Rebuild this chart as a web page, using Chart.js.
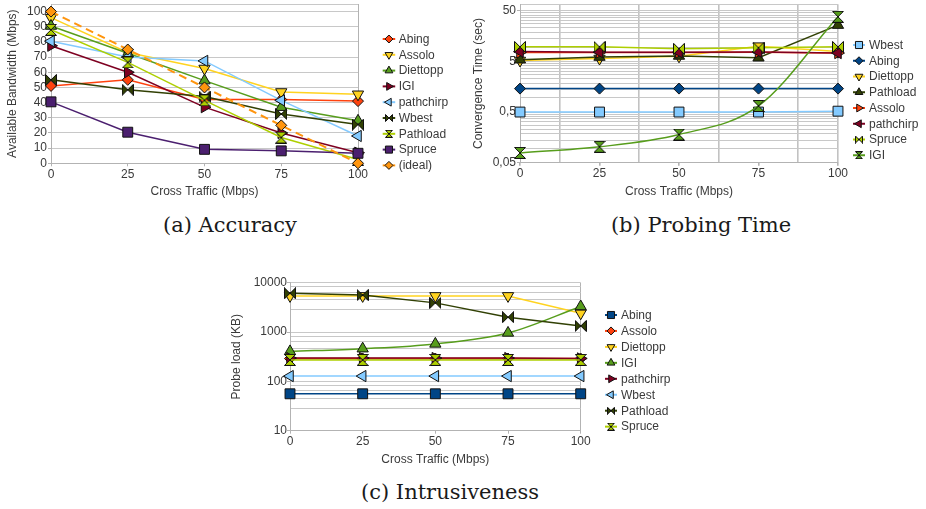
<!DOCTYPE html>
<html><head><meta charset="utf-8">
<script src="https://cdn.jsdelivr.net/npm/chart.js@4.4.1/dist/chart.umd.min.js"></script>
<style>
html,body{margin:0;padding:0;background:#fff;width:926px;height:509px;overflow:hidden;position:relative;}
canvas{position:absolute;}
.cap{position:absolute;font-family:"DejaVu Serif",serif;font-size:21px;line-height:24px;color:#1a1a1a;white-space:nowrap;transform:translateX(-50%);}
</style></head><body>
<canvas id="ca" width="470" height="211" style="left:0px;top:-6px"></canvas>
<canvas id="cb" width="466" height="211" style="left:460px;top:-6px"></canvas>
<canvas id="cc" width="480" height="215" style="left:220px;top:260px"></canvas>
<div class="cap" style="left:230px;top:213px">(a) Accuracy</div>
<div class="cap" style="left:701px;top:213px">(b) Probing Time</div>
<div class="cap" style="left:450px;top:480px">(c) Intrusiveness</div>
<script>
// ---------- data ----------
const crossTraffic = [0, 25, 50, 75, 100];
const xTickLabels = ['0', '25', '50', '75', '100'];

// (a) Accuracy: available bandwidth (Mbps)
const accAbing     = [51, 55, 42, 42, 41];
const accAssolo    = [96, 73, 62.5, 47, 45.5];
const accDiettopp  = [90.5, 72.5, 54.5, 37, 28];
const accIGI       = [77.5, 60, 37, 20, 7];
const accPathchirp = [80.5, 70, 67.5, 41.5, 18];
const accWbest     = [55, 48.5, 44, 32.5, 25.5];
const accPathload  = [88, 66.5, 41.5, 17, 2.5];
const accSpruce    = [40.5, 20.5, 9.2, 8.2, 6.6];
const accIdeal     = [100, 75, 50, 25, 0];
const accTickValues = [0, 10, 20, 30, 40, 50, 60, 70, 80, 90, 100];

// (b) Probing time: convergence time (sec)
const timeWbest     = [0.5, 0.5, 0.5, 0.5, 0.52];
const timeAbing     = [1.45, 1.45, 1.45, 1.45, 1.45];
const timeDiettopp  = [5.2, 5.7, 6.3, 10, 7.8];
const timePathload  = [5.4, 6.1, 6.4, 5.9, 26];
const timeAssolo    = [7.5, 7.5, 7.5, 7.6, 7.3];
const timePathchirp = [7.8, 7.6, 7.6, 7.7, 7.3];
const timeSpruce    = [9.7, 9.7, 8.9, 9.3, 9.7];
const timeIGI       = [0.078, 0.103, 0.18, 0.66, 38];
const timeTickValues = [0.05, 0.5, 5, 50];
const timeTickLabels = ['0,05', '0,5', '5', '50'];

// (c) Intrusiveness: probe load (KB)
const loadAbing     = [56, 56, 56, 56, 56];
const loadAssolo    = [290, 290, 290, 290, 290];
const loadDiettopp  = [5400, 5400, 5400, 5400, 2400];
const loadIGI       = [405, 460, 575, 960, 3300];
const loadPathchirp = [297, 297, 297, 297, 292];
const loadWbest     = [128, 128, 128, 128, 128];
const loadPathload  = [6100, 5600, 3900, 2000, 1330];
const loadSpruce    = [272, 272, 272, 272, 272];
const loadTickValues = [10, 100, 1000, 10000];
const loadTickLabels = ['10', '100', '1000', '10000'];

// ---------- styling ----------
const FONT = '"Liberation Sans", Arial, sans-serif';
const TXT = '#3a3a3a';
const GRID = '#c8c8c8';
const AXIS = '#b3b3b3';
const COL = {blue:'#004586', orange:'#ff420e', yellow:'#ffd320', green:'#579d1c', wine:'#7e0021',
  sky:'#83caff', olive:'#314004', lime:'#aecf00', purple:'#4b1f6f', amber:'#ff950e'};

function shapeCanvas(kind, fill, size) {
  const c = document.createElement('canvas');
  c.width = size; c.height = size;
  const g = c.getContext('2d');
  const s = size, m = 0.5, h = s / 2;
  g.beginPath();
  if (kind === 'bowtie') {
    g.moveTo(m, m); g.lineTo(h, h); g.lineTo(m, s - m); g.closePath();
    g.moveTo(s - m, m); g.lineTo(h, h); g.lineTo(s - m, s - m); g.closePath();
  } else {
    g.moveTo(m, m); g.lineTo(s - m, m); g.lineTo(h, h); g.closePath();
    g.moveTo(m, s - m); g.lineTo(s - m, s - m); g.lineTo(h, h); g.closePath();
  }
  g.fillStyle = fill; g.fill();
  g.strokeStyle = '#111'; g.lineWidth = 1; g.lineJoin = 'miter'; g.stroke();
  return c;
}
function marker(kind, color) {
  switch (kind) {
    case 'diamond': return {style:'rectRot', rot:0, r:5.5, lr:4};
    case 'square':  return {style:'rect', rot:0, r:7, lr:5};
    case 'up':      return {style:'triangle', rot:0, r:6.5, lr:4.5};
    case 'down':    return {style:'triangle', rot:180, r:6.5, lr:4.5};
    case 'right':   return {style:'triangle', rot:90, r:6.5, lr:4.5};
    case 'left':    return {style:'triangle', rot:270, r:6.5, lr:4.5};
    default: return {style: shapeCanvas(kind, color, 12), rot:0, r:6, lr:4, lstyle: shapeCanvas(kind, color, 8)};
  }
}
function series(label, values, color, kind, extra) {
  const m = marker(kind, color);
  return Object.assign({
    label, data: crossTraffic.map((x, i) => ({x, y: values[i]})),
    borderColor: color, backgroundColor: color, borderWidth: 1.5,
    pointStyle: m.style, pointRotation: m.rot, pointRadius: m.r, pointHoverRadius: m.r,
    pointBackgroundColor: color, pointBorderColor: '#111', pointBorderWidth: 1,
    legendStyle: m.lstyle || m.style, legendRadius: m.lr, tension: 0, clip: false
  }, extra || {});
}
function ordered(list) { list.forEach((d, i) => d.order = list.length - i); return list; }

const lineLegend = {
  id: 'lineLegend',
  afterDraw(chart, args, o) {
    const ctx = chart.ctx;
    ctx.save();
    chart.data.datasets.forEach((ds, i) => {
      const y = o.y + i * o.step;
      ctx.setLineDash([]);
      ctx.strokeStyle = ds.borderColor; ctx.lineWidth = 2;
      ctx.beginPath(); ctx.moveTo(o.x, y); ctx.lineTo(o.x + o.len, y); ctx.stroke();
      ctx.fillStyle = ds.pointBackgroundColor; ctx.strokeStyle = '#111'; ctx.lineWidth = 1;
      Chart.helpers.drawPoint(ctx, {pointStyle: ds.legendStyle, rotation: ds.pointRotation,
        radius: ds.legendRadius, borderWidth: 1}, o.x + o.len / 2, y);
      ctx.fillStyle = TXT; ctx.font = '12px ' + FONT; ctx.textBaseline = 'middle'; ctx.textAlign = 'left';
      ctx.fillText(ds.label, o.x + o.len + o.gap, y + 0.5);
    });
    ctx.restore();
  }
};

function build(id, geo, datasets, yScale, xStep, xGridAt, legend) {
  const {L, T, W, H, l, t, r, b, xTitleY, yTitleX} = geo;
  const isLabeledX = v => crossTraffic.includes(v);
  return new Chart(document.getElementById(id), {
    type: 'line',
    data: {datasets},
    options: {
      responsive: false, animation: false, events: [],
      layout: {padding: {top: t - T, right: (L + W) - r, bottom: 0, left: 0}},
      plugins: {legend: {display: false}, tooltip: {enabled: false}, lineLegend: legend},
      scales: {
        x: {
          type: 'linear', min: 0, max: 100,
          afterBuildTicks: s => { const v = []; for (let k = 0; k <= 100 + 1e-9; k += xStep) v.push({value: k}); s.ticks = v; },
          afterFit: s => { s.height = (T + H) - b; },
          ticks: {autoSkip: false, maxRotation: 0, padding: 1, color: TXT, font: {family: FONT, size: 12},
            callback: v => { const i = crossTraffic.indexOf(v); return i >= 0 ? xTickLabels[i] : ''; }},
          grid: {drawTicks: true, tickLength: 3, lineWidth: xGridAt.width,
            color: c => (xGridAt.values.includes(c.tick.value) ? xGridAt.color : 'rgba(0,0,0,0)'),
            tickColor: c => (isLabeledX(c.tick.value) ? AXIS : 'rgba(0,0,0,0)')},
          border: {display: true, color: AXIS, width: 1},
          title: {display: true, text: 'Cross Traffic (Mbps)', color: TXT, font: {family: FONT, size: 12},
            padding: {top: 0, bottom: (T + H) - xTitleY - 7.2}}
        },
        y: Object.assign({
          afterFit: s => { s.width = l - L; },
          border: {display: true, color: AXIS, width: 1},
        }, yScale(yTitleX - L - 7.2))
      }
    },
    plugins: [lineLegend]
  });
}

function yCfg(type, min, max, gridValues, tickValues, tickLabels, title, pad) {
  return function (titlePad) {
    return {
      type, min, max,
      afterBuildTicks: s => { s.ticks = gridValues.map(v => ({value: v})); },
      ticks: {autoSkip: false, padding: pad, color: TXT, font: {family: FONT, size: 12},
        callback: v => { const i = tickValues.findIndex(t => Math.abs(t - v) < 1e-9 * Math.max(1, t)); return i >= 0 ? tickLabels[i] : ''; }},
      grid: {drawTicks: true, tickLength: 3, color: GRID, lineWidth: 1,
        tickColor: c => (tickValues.some(t => Math.abs(t - c.tick.value) < 1e-9 * Math.max(1, t)) ? AXIS : 'rgba(0,0,0,0)')},
      title: {display: true, text: title, color: TXT, font: {family: FONT, size: 12}, padding: {top: titlePad, bottom: 0}}
    };
  };
}

// ---------- (a) ----------
const accGrid = accTickValues.concat([105]);
build('ca', {L:0, T:-6, W:470, H:211, l:51, t:4, r:358, b:163.3, xTitleY:191.7, yTitleX:12.5},
  ordered([
    series('Abing', accAbing, COL.orange, 'diamond'),
    series('Assolo', accAssolo, COL.yellow, 'down'),
    series('Diettopp', accDiettopp, COL.green, 'up'),
    series('IGI', accIGI, COL.wine, 'right'),
    series('pathchirp', accPathchirp, COL.sky, 'left'),
    series('Wbest', accWbest, COL.olive, 'bowtie'),
    series('Pathload', accPathload, COL.lime, 'hourglass'),
    series('Spruce', accSpruce, COL.purple, 'square'),
    series('(ideal)', accIdeal, COL.amber, 'diamond', {borderDash: [8, 5], borderWidth: 2})
  ]),
  yCfg('linear', 0, 105, accGrid, accTickValues, accTickValues.map(String), 'Available Bandwidth (Mbps)', 1),
  25, {values: [100], color: AXIS, width: 1},
  {x: 382.7, y: 39 + 6, step: 15.8, len: 12.5, gap: 3.5});

// ---------- (b) ----------
const timeGrid = [];
[0.05, 0.5, 5].forEach(base => { for (let k = 0; k < 10; k++) timeGrid.push(base * (1 + 0.9 * k)); });
timeGrid.push(50, 67);
build('cb', {L:460, T:-6, W:466, H:211, l:520, t:4.3, r:838, b:162.7, xTitleY:191.7, yTitleX:478.3},
  ordered([
    series('Wbest', timeWbest, COL.sky, 'square'),
    series('Abing', timeAbing, COL.blue, 'diamond'),
    series('Diettopp', timeDiettopp, COL.yellow, 'down'),
    series('Pathload', timePathload, COL.olive, 'up'),
    series('Assolo', timeAssolo, COL.orange, 'right'),
    series('pathchirp', timePathchirp, COL.wine, 'left'),
    series('Spruce', timeSpruce, COL.lime, 'bowtie'),
    series('IGI', timeIGI, COL.green, 'hourglass', {cubicInterpolationMode: 'monotone'})
  ]),
  yCfg('logarithmic', 0.05, 67, timeGrid, timeTickValues, timeTickLabels, 'Convergence Time (sec)', 1),
  12.5, {values: [12.5, 37.5, 62.5, 87.5, 100], color: '#c2c2c2', width: 1.6},
  {x: 853 - 460, y: 45 + 6, step: 15.75, len: 12, gap: 4});

// ---------- (c) ----------
const loadGrid = [];
[10, 100, 1000].forEach(base => { for (let k = 0; k < 5; k++) loadGrid.push(base * (1 + 1.8 * k)); });
loadGrid.push(10000);
build('cc', {L:220, T:260, W:480, H:215, l:290, t:282.7, r:580.7, b:430.7, xTitleY:460, yTitleX:236.7},
  ordered([
    series('Abing', loadAbing, COL.blue, 'square'),
    series('Assolo', loadAssolo, COL.orange, 'diamond'),
    series('Diettopp', loadDiettopp, COL.yellow, 'down'),
    series('IGI', loadIGI, COL.green, 'up', {cubicInterpolationMode: 'monotone'}),
    series('pathchirp', loadPathchirp, COL.wine, 'right'),
    series('Wbest', loadWbest, COL.sky, 'left'),
    series('Pathload', loadPathload, COL.olive, 'bowtie'),
    series('Spruce', loadSpruce, COL.lime, 'hourglass')
  ]),
  yCfg('logarithmic', 10, 10000, loadGrid, loadTickValues, loadTickLabels, 'Probe load (KB)', 0),
  25, {values: [100], color: AXIS, width: 1},
  {x: 605 - 220, y: 315 - 260, step: 15.95, len: 12, gap: 4});
</script>
</body></html>
